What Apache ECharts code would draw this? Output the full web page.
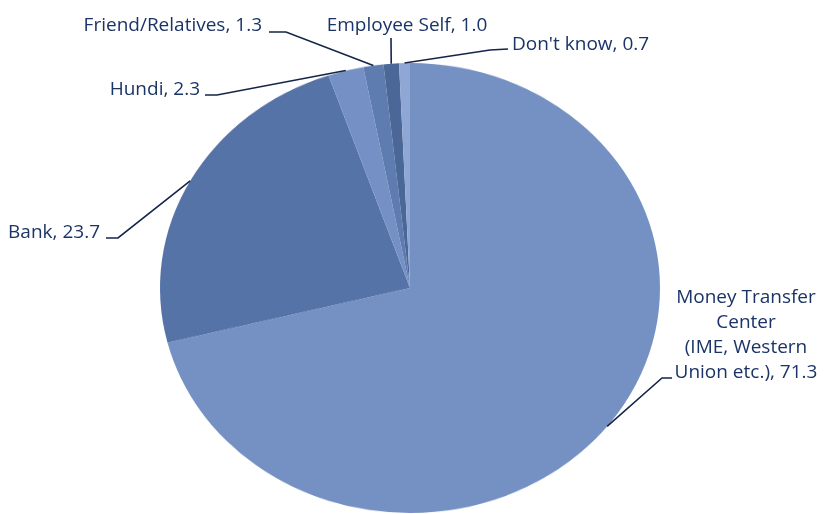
<!DOCTYPE html>
<html><head><meta charset="utf-8">
<script src="https://cdn.jsdelivr.net/npm/echarts/dist/echarts.min.js"></script>
<style>
html,body{margin:0;padding:0;background:#fff;}
#wrap{position:relative;width:826px;height:514px;overflow:hidden;background:#fff;}
#pie{position:absolute;left:0;top:0;width:826px;height:620px;}
#lab{position:absolute;left:0;top:0;width:826px;height:514px;}
#pie{transform:scaleY(0.9);transform-origin:410px 288px;}
</style></head>
<body><div id="wrap"><div id="pie"></div><div id="lab"></div></div>
<script>
// ---- data ----
const categories = [
  'Money Transfer\nCenter\n(IME, Western\nUnion etc.)',
  'Bank',
  'Hundi',
  'Friend/Relatives',
  'Employee Self',
  "Don't know"
];
const values = [71.3, 23.7, 2.3, 1.3, 1.0, 0.7];

// ---- styles ----
const sliceColors = ['#7591c3', '#5673a8', '#7490c4', '#5f7cb0', '#4a6797', '#8ea7d4'];
const textColor = '#1b3467';
const lineColor = '#15254a';
const CX = 410, CY = 288, RX = 250, RY = 225;

// label placement (text anchor + line bend/end), layout only
const labelSpots = [
  {x: 746, y: 335, align: 'center', knee: [662, 378], end: [672, 378]},
  {x: 100, y: 233, align: 'right',  knee: [118, 238], end: [106, 238]},
  {x: 200, y: 90,  align: 'right',  knee: [217, 95],  end: [205, 95]},
  {x: 262, y: 26,  align: 'right',  knee: [286, 32],  end: [269, 32]},
  {x: 407, y: 26,  align: 'center', knee: [391, 39],  end: [391, 38]},
  {x: 512, y: 45,  align: 'left',   knee: [490, 50],  end: [508, 49]}
];

const seriesData = categories.map((c, i) => ({name: c, value: values[i], itemStyle: {color: sliceColors[i]}}));

// ellipse edge point at a slice's mid angle (clockwise from 12 o'clock)
const total = values.reduce((a, b) => a + b, 0);
function edgePoint(idx) {
  let acc = 0;
  for (let k = 0; k < idx; k++) acc += values[k];
  const mid = (acc + values[idx] / 2) / total * Math.PI * 2;
  return [CX + RX * Math.sin(mid), CY - RY * Math.cos(mid)];
}

const pieChart = echarts.init(document.getElementById('pie'), null, {renderer: 'canvas'});
pieChart.setOption({
  animation: false,
  series: [{
    type: 'pie', silent: true,
    center: [CX, CY], radius: RX,
    startAngle: 90, clockwise: true,
    label: {show: false}, labelLine: {show: false},
    itemStyle: {borderWidth: 0},
    data: seriesData
  }]
});

const labChart = echarts.init(document.getElementById('lab'), null, {renderer: 'canvas'});
labChart.setOption({
  animation: false,
  series: [{
    type: 'pie', silent: true,
    center: [CX, CY], radius: RX,
    startAngle: 90, clockwise: true,
    itemStyle: {color: 'rgba(0,0,0,0)', borderWidth: 0},
    label: {
      show: true,
      color: textColor,
      fontFamily: 'Open Sans',
      fontSize: 19,
      lineHeight: 25,
      formatter: p => p.name + ', ' + values[p.dataIndex].toFixed(1)
    },
    labelLine: {show: true, lineStyle: {color: lineColor, width: 1.6}},
    labelLayout: function (params) {
      const s = labelSpots[params.dataIndex];
      return {
        x: s.x, y: s.y, align: s.align, verticalAlign: 'middle',
        labelLinePoints: [edgePoint(params.dataIndex), s.knee, s.end]
      };
    },
    data: seriesData.map(d => ({name: d.name, value: d.value}))
  }]
});
</script>
</body></html>
